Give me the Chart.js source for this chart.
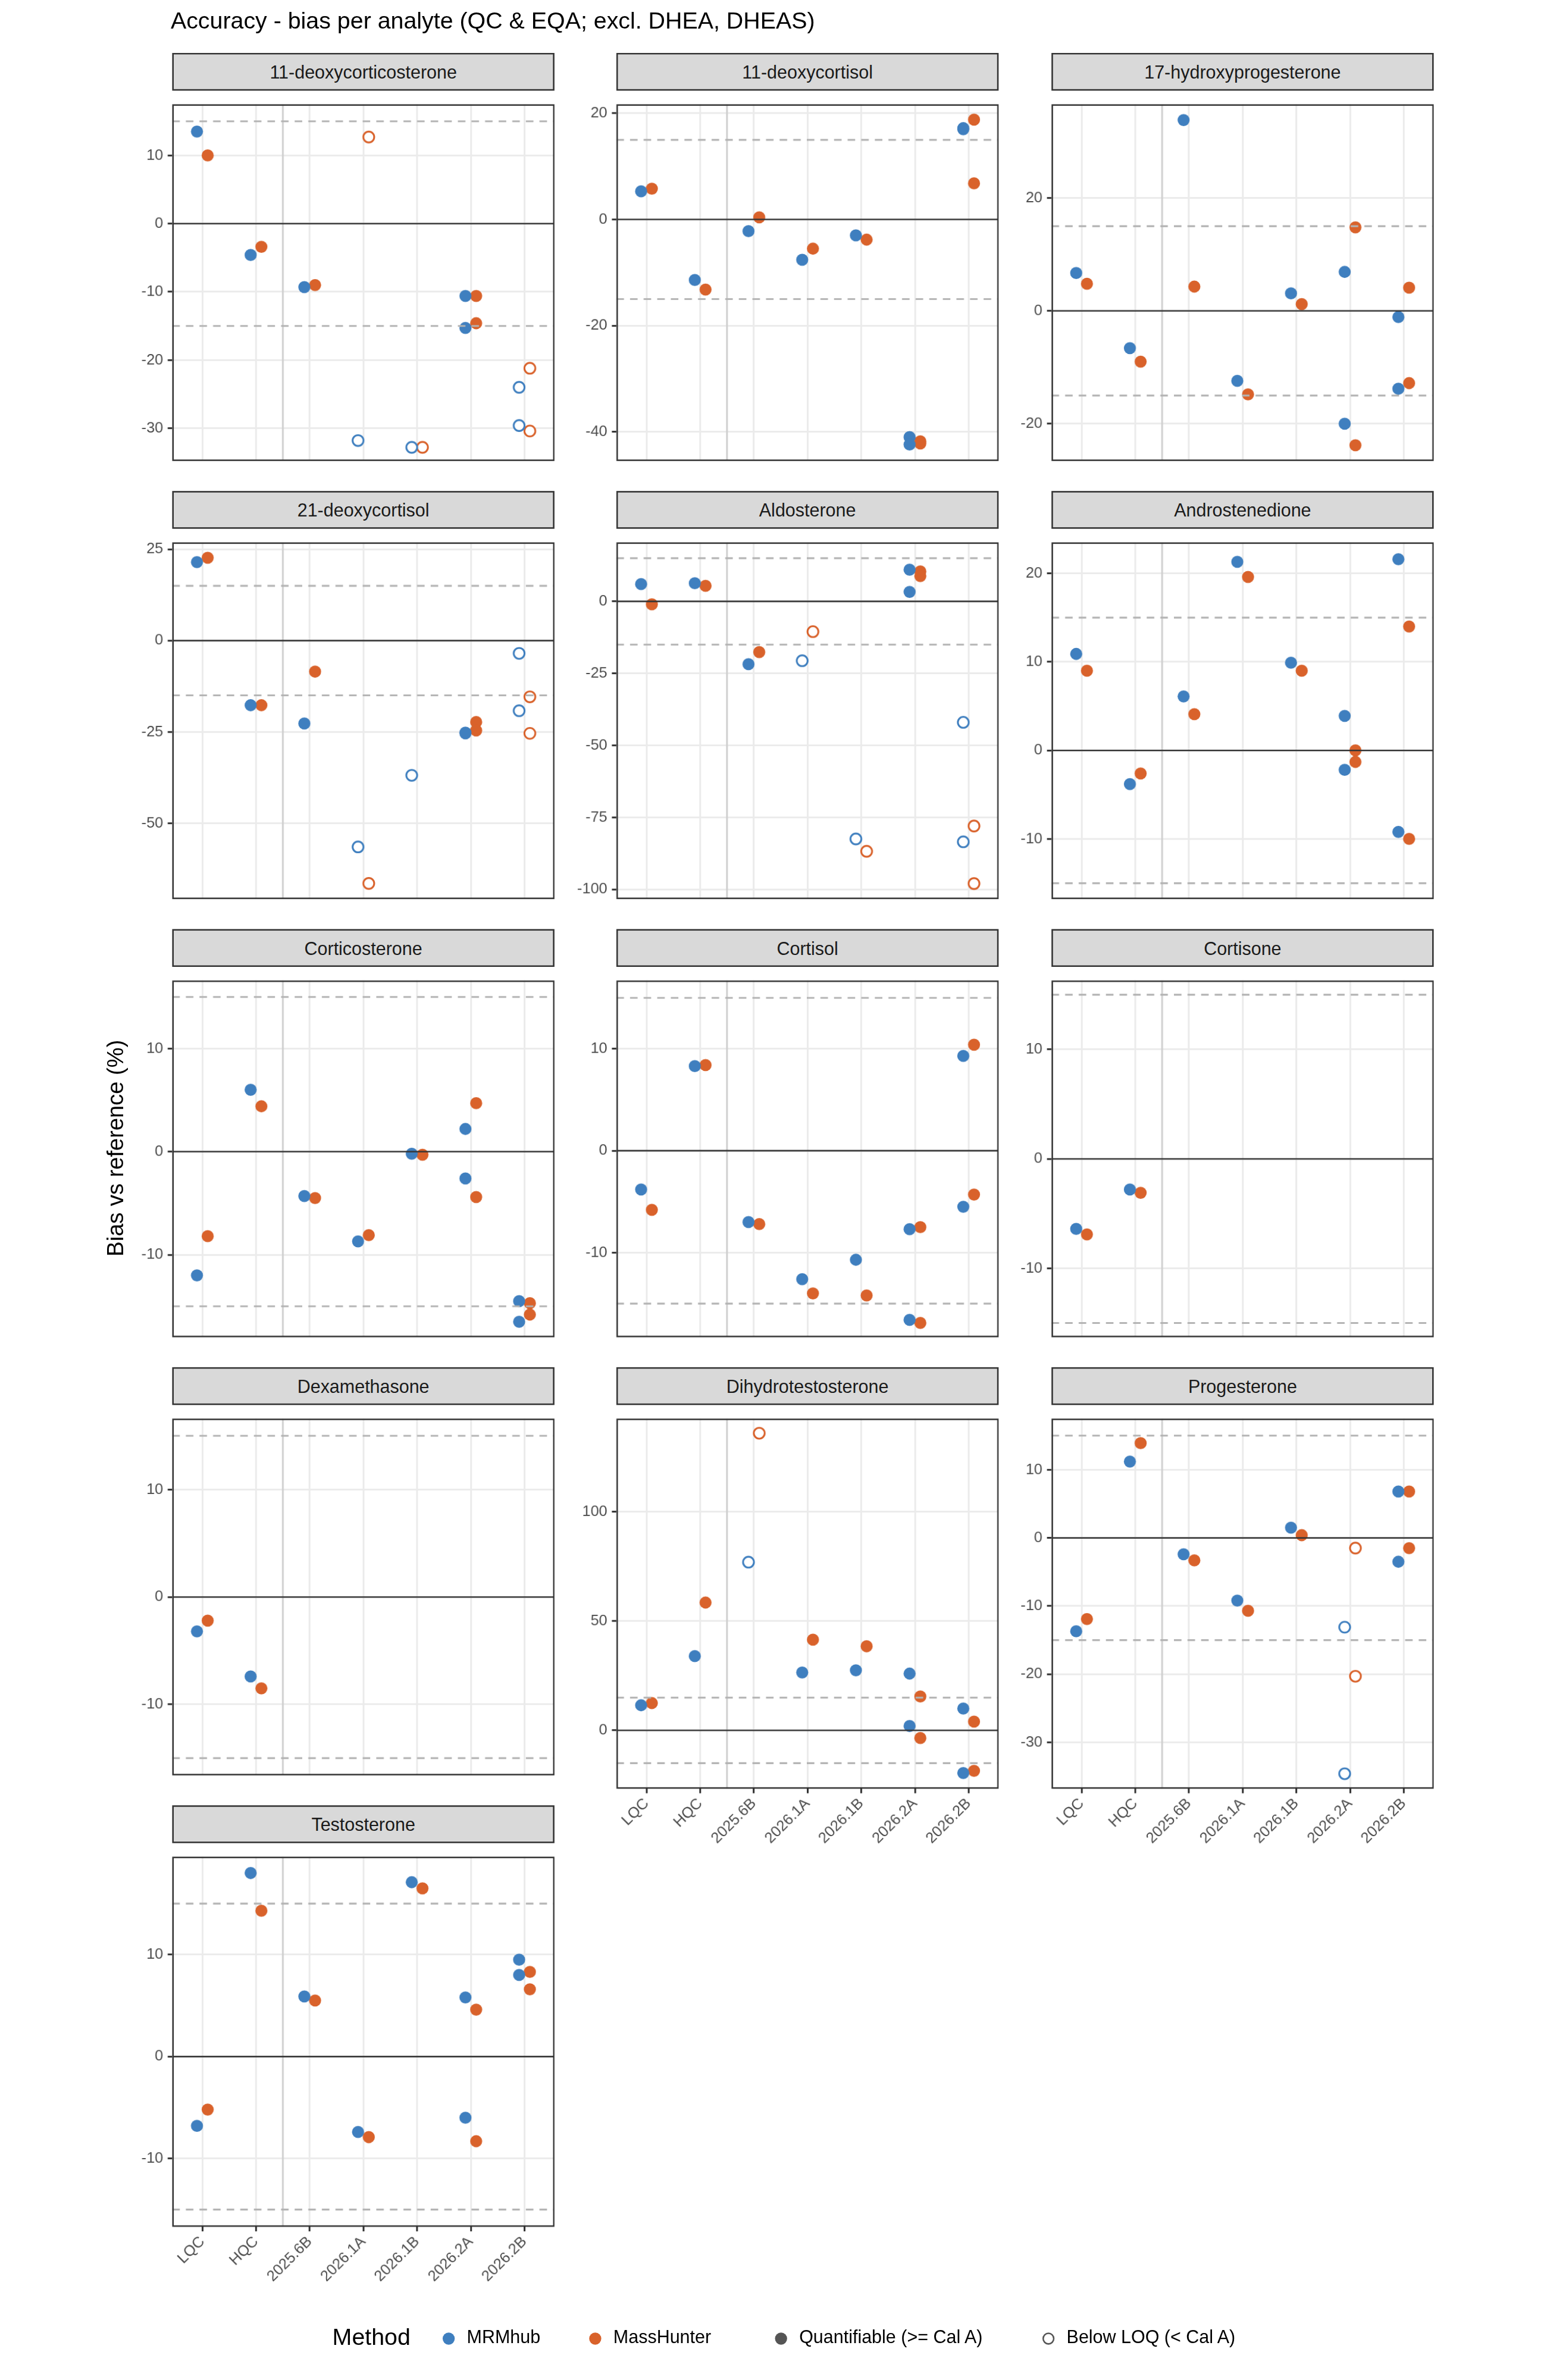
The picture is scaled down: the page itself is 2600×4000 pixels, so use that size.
<!DOCTYPE html>
<html><head><meta charset="utf-8">
<script src="https://cdn.jsdelivr.net/npm/chart.js@4/dist/chart.umd.min.js"></script>
<style>
  body { margin: 0; background: #fff; font-family: "Liberation Sans", Arial, sans-serif; }
  #page { position: absolute; left: 0; top: 0; width: 1024px; height: 1575px; transform: scale(2.5390625); transform-origin: 0 0; }
  .strip { position: absolute; background: #d9d9d9; border: 1px solid #333; box-sizing: border-box; font-size: 12px; color: #1a1a1a; text-align: center; line-height: 24px; }
  canvas { position: absolute; }
  .txt { position: absolute; white-space: nowrap; color: #000; }
  .dot { display: inline-block; width: 8px; height: 8px; border-radius: 50%; vertical-align: -1px; margin-right: 8px; box-sizing: border-box; }
</style></head>
<body><div id="page">
<div class="txt" style="left:113px;top:5px;font-size:15.5px">Accuracy - bias per analyte (QC &amp; EQA; excl. DHEA, DHEAS)</div>
<div class="txt" style="top:760px;font-size:15px;transform:translate(-50%,-50%) rotate(-90deg);transform-origin:center;left:76px">Bias vs reference (%)</div>
<div class="txt" style="left:220px;top:1538px;font-size:15.5px">Method</div>
<div class="txt" style="left:293px;top:1540px;font-size:12px"><span class="dot" style="background:#3f7fbf"></span>MRMhub</div>
<div class="txt" style="left:390px;top:1540px;font-size:12px"><span class="dot" style="background:#d9622b"></span>MassHunter</div>
<div class="txt" style="left:513px;top:1540px;font-size:12px"><span class="dot" style="background:#555"></span>Quantifiable (&gt;= Cal A)</div>
<div class="txt" style="left:690px;top:1540px;font-size:12px"><span class="dot" style="border:1.2px solid #555"></span>Below LOQ (&lt; Cal A)</div>
</div>
<script>
const categories = ["LQC", "HQC", "2025.6B", "2026.1A", "2026.1B", "2026.2A", "2026.2B"];
const methods = ["MRMhub", "MassHunter"];
const methodColors = ["#3f7fbf", "#d9622b"];

// rows: [category index, method index, bias %, below LOQ (1) ]
const dcs = [[0,0,13.5,0],[0,1,10,0],[1,0,-4.6,0],[1,1,-3.4,0],[2,0,-9.3,0],[2,1,-9,0],[3,0,-31.8,1],[3,1,12.7,1],
  [4,0,-32.8,1],[4,1,-32.8,1],[5,0,-10.6,0],[5,0,-15.3,0],[5,1,-10.6,0],[5,1,-14.6,0],[6,0,-24,1],[6,0,-29.6,1],[6,1,-21.2,1],[6,1,-30.4,1]];
const dcortisol = [[0,0,5.3,0],[0,1,5.8,0],[1,0,-11.4,0],[1,1,-13.2,0],[2,0,-2.2,0],[2,1,0.4,0],[3,0,-7.6,0],[3,1,-5.5,0],
  [4,0,-3,0],[4,1,-3.8,0],[5,0,-41,0],[5,0,-42.4,0],[5,1,-41.8,0],[5,1,-42.2,0],[6,0,17,0],[6,0,17.2,0],[6,1,18.8,0],[6,1,6.8,0]];
const ohp = [[0,0,6.7,0],[0,1,4.8,0],[1,0,-6.6,0],[1,1,-9,0],[2,0,33.8,0],[2,1,4.3,0],[3,0,-12.4,0],[3,1,-14.8,0],
  [4,0,3.1,0],[4,1,1.2,0],[5,0,6.9,0],[5,0,-20,0],[5,1,14.8,0],[5,1,-23.8,0],[6,0,-1.1,0],[6,0,-13.8,0],[6,1,4.1,0],[6,1,-12.8,0]];
const dc21 = [[0,0,21.5,0],[0,1,22.7,0],[1,0,-17.7,0],[1,1,-17.7,0],[2,0,-22.7,0],[2,1,-8.5,0],[3,0,-56.5,1],[3,1,-66.5,1],
  [4,0,-36.9,1],[5,0,-25.4,0],[5,0,-25.2,0],[5,1,-22.3,0],[5,1,-24.6,0],[6,0,-3.5,1],[6,0,-19.2,1],[6,1,-15.4,1],[6,1,-25.4,1]];
const aldo = [[0,0,6,0],[0,1,-1,0],[1,0,6.3,0],[1,1,5.4,0],[2,0,-21.8,0],[2,1,-17.6,0],[3,0,-20.6,1],[3,1,-10.5,1],
  [4,0,-82.5,1],[4,1,-86.8,1],[5,0,11,0],[5,0,3.3,0],[5,1,10.4,0],[5,1,8.8,0],[6,0,-42,1],[6,0,-83.5,1],[6,1,-78,1],[6,1,-98,1]];
const andro = [[0,0,10.9,0],[0,1,9,0],[1,0,-3.8,0],[1,1,-2.6,0],[2,0,6.1,0],[2,1,4.1,0],[3,0,21.3,0],[3,1,19.6,0],
  [4,0,9.9,0],[4,1,9,0],[5,0,3.9,0],[5,0,-2.2,0],[5,1,0,0],[5,1,-1.3,0],[6,0,21.6,0],[6,0,-9.2,0],[6,1,14,0],[6,1,-10,0]];
const corticosterone = [[0,0,-12,0],[0,1,-8.2,0],[1,0,6,0],[1,1,4.4,0],[2,0,-4.3,0],[2,1,-4.5,0],[3,0,-8.7,0],[3,1,-8.1,0],
  [4,0,-0.2,0],[4,1,-0.3,0],[5,0,2.2,0],[5,0,-2.6,0],[5,1,4.7,0],[5,1,-4.4,0],[6,0,-14.5,0],[6,0,-16.5,0],[6,1,-14.7,0],[6,1,-15.8,0]];
const cortisol = [[0,0,-3.8,0],[0,1,-5.8,0],[1,0,8.3,0],[1,1,8.4,0],[2,0,-7,0],[2,1,-7.2,0],[3,0,-12.6,0],[3,1,-14,0],
  [4,0,-10.7,0],[4,1,-14.2,0],[5,0,-7.7,0],[5,0,-16.6,0],[5,1,-7.5,0],[5,1,-16.9,0],[6,0,9.3,0],[6,0,-5.5,0],[6,1,10.4,0],[6,1,-4.3,0]];
const cortisone = [[0,0,-6.4,0],[0,1,-6.9,0],[1,0,-2.8,0],[1,1,-3.1,0]];
const dexa = [[0,0,-3.2,0],[0,1,-2.2,0],[1,0,-7.4,0],[1,1,-8.5,0]];
const dht = [[0,0,11.5,0],[0,1,12.5,0],[1,0,34,0],[1,1,58.5,0],[2,0,77,1],[2,1,136,1],[3,0,26.5,0],[3,1,41.5,0],
  [4,0,27.5,0],[4,1,38.5,0],[5,0,26,0],[5,0,2,0],[5,1,15.5,0],[5,1,-3.5,0],[6,0,10,0],[6,0,-19.5,0],[6,1,4,0],[6,1,-18.5,0]];
const prog = [[0,0,-13.7,0],[0,1,-11.9,0],[1,0,11.2,0],[1,1,13.9,0],[2,0,-2.4,0],[2,1,-3.3,0],[3,0,-9.2,0],[3,1,-10.7,0],
  [4,0,1.5,0],[4,1,0.4,0],[5,0,-13.1,1],[5,0,-34.6,1],[5,1,-1.5,1],[5,1,-20.3,1],[6,0,6.8,0],[6,0,-3.5,0],[6,1,6.8,0],[6,1,-1.5,0]];
const testo = [[0,0,-6.8,0],[0,1,-5.2,0],[1,0,18,0],[1,1,14.3,0],[2,0,5.9,0],[2,1,5.5,0],[3,0,-7.4,0],[3,1,-7.9,0],
  [4,0,17.1,0],[4,1,16.5,0],[5,0,5.8,0],[5,0,-6,0],[5,1,4.6,0],[5,1,-8.3,0],[6,0,9.5,0],[6,0,8,0],[6,1,8.3,0],[6,1,6.6,0]];

const panelNames = ["11-deoxycorticosterone","11-deoxycortisol","17-hydroxyprogesterone","21-deoxycortisol","Aldosterone","Androstenedione",
  "Corticosterone","Cortisol","Cortisone","Dexamethasone","Dihydrotestosterone","Progesterone","Testosterone"];
const panelData = [dcs, dcortisol, ohp, dc21, aldo, andro, corticosterone, cortisol, cortisone, dexa, dht, prog, testo];
const yRanges = [[-34.8,17.5],[-45.5,21.7],[-26.6,36.6],[-70.8,26.9],[-103.4,20.5],[-16.8,23.5],[-18,16.6],[-18.3,16.7],[-16.3,16.3],[-16.6,16.6],[-26.7,142.7],[-36.8,17.5],[-16.7,19.6]];
const yTicks = [[-30,-20,-10,0,10],[-40,-20,0,20],[-20,0,20],[-50,-25,0,25],[-100,-75,-50,-25,0],[-10,0,10,20],[-10,0,10],[-10,0,10],[-10,0,10],[-10,0,10],[0,50,100],[-30,-20,-10,0,10],[-10,0,10]];
const limit = 15;

const colX = [114, 408, 696], plotW = 253;
const rowTop = [35, 325, 615, 905, 1195], stripH = 25, plotH = 254;
const bottomPanels = [12, 10, 11];
const page = document.getElementById("page");
const XMIN = 0.44, XMAX = 7.56, AXW = 34, XLAB = 46;

const frame = {
  id: "frame",
  afterDraw(c) {
    const a = c.chartArea, g = c.ctx;
    g.save(); g.strokeStyle = "#333"; g.lineWidth = 1;
    g.strokeRect(a.left + 0.5, a.top + 0.5, a.right - a.left - 1, a.bottom - a.top - 1);
    g.restore();
  }
};

panelNames.forEach((name, i) => {
  const col = i % 3, row = Math.floor(i / 3);
  const left = colX[col], top = rowTop[row];
  const s = document.createElement("div");
  s.className = "strip";
  Object.assign(s.style, { left: left + "px", top: top + "px", width: plotW + "px", height: stripH + "px" });
  s.textContent = name;
  page.appendChild(s);

  const isBottom = bottomPanels.includes(i);
  const cv = document.createElement("canvas");
  const w = plotW + AXW, h = plotH + (isBottom ? XLAB : 0);
  cv.width = w; cv.height = h;
  Object.assign(cv.style, { left: (left - AXW) + "px", top: (top + stripH) + "px", width: w + "px", height: h + "px" });
  page.appendChild(cv);

  const rows = panelData[i];
  const datasets = [];
  [-limit, limit].forEach(v => datasets.push({ type: "line", data: [{x: XMIN, y: v}, {x: XMAX, y: v}], borderColor: "#b3b3b3", borderWidth: 1.2, borderDash: [5, 4], pointRadius: 0 }));
  datasets.push({ type: "line", data: [{x: XMIN, y: 0}, {x: XMAX, y: 0}], borderColor: "#333", borderWidth: 1, pointRadius: 0 });
  datasets.push({ type: "line", data: [{x: 2.5, y: yRanges[i][0]}, {x: 2.5, y: yRanges[i][1]}], borderColor: "#d0d0d0", borderWidth: 1.2, pointRadius: 0 });
  methods.forEach((m, mi) => {
    [0, 1].forEach(open => {
      const pts = rows.filter(r => r[1] === mi && r[3] === open).map(r => ({ x: r[0] + 1 + (mi === 0 ? -0.1 : 0.1), y: r[2] }));
      datasets.push({ type: "scatter", data: pts, pointRadius: open ? 3.6 : 4,
        backgroundColor: open ? "#fff" : methodColors[mi], borderColor: methodColors[mi], borderWidth: open ? 1.2 : 0 });
    });
  });

  new Chart(cv, {
    data: { datasets },
    options: {
      responsive: false, animation: false, devicePixelRatio: 2.6,
      layout: { autoPadding: false, padding: 0 },
      plugins: { legend: { display: false }, tooltip: { enabled: false } },
      scales: {
        x: { type: "linear", min: XMIN, max: XMAX,
          afterBuildTicks: sc => { sc.ticks = categories.map((c, k) => ({ value: k + 1 })); },
          afterFit: sc => { sc.height = isBottom ? XLAB : 0; },
          grid: { color: "#ebebeb", lineWidth: 1.2, drawTicks: isBottom, tickLength: 3, tickColor: "#333" },
          border: { display: false },
          ticks: { display: isBottom, maxRotation: 45, minRotation: 45, padding: 1, color: "#4d4d4d", font: { size: 10, family: "Liberation Sans" },
            callback: v => categories[Math.round(v) - 1] } },
        y: { min: yRanges[i][0], max: yRanges[i][1],
          afterBuildTicks: sc => { sc.ticks = yTicks[i].map(v => ({ value: v })); },
          afterFit: sc => { sc.width = AXW; },
          grid: { color: "#ebebeb", lineWidth: 1.2, tickLength: 3, tickColor: "#333" },
          border: { display: false },
          ticks: { color: "#4d4d4d", font: { size: 10, family: "Liberation Sans" }, padding: 3 } }
      }
    },
    plugins: [frame]
  });
});
</script>
</body></html>
